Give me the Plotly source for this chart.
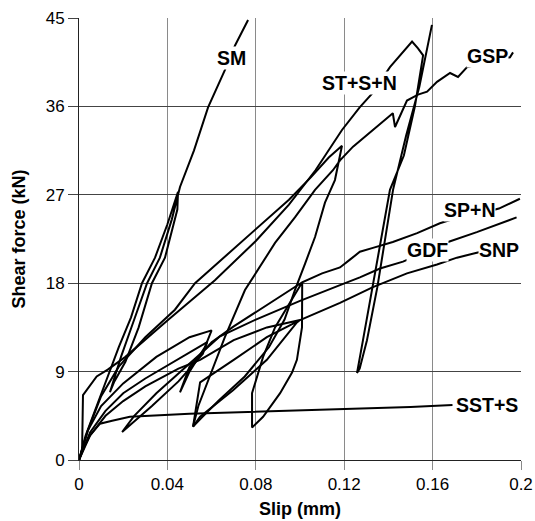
import plotly.graph_objects as go

# ---- data (slip in mm, shear force in kN) ----
SM_x = [0, 0.003, 0.008, 0.013, 0.018, 0.0235, 0.0285, 0.0344, 0.040, 0.0448, 0.0445, 0.0389, 0.033, 0.027, 0.021, 0.016, 0.014,
        0.0155, 0.019, 0.0245, 0.0308, 0.0366, 0.042, 0.0457, 0.052, 0.0584, 0.066, 0.0706, 0.0765]
SM_y = [0, 2.5, 5.5, 8.5, 11.5, 14.5, 18.0, 20.6, 24.0, 27.3, 25.5, 20.6, 18.0, 13.5, 10.0, 8.0, 6.9,
        8.0, 10.5, 14.0, 18.0, 20.6, 24.5, 27.8, 31.5, 35.9, 39.7, 42.2, 44.8]

STSN_x = [0, 0.0014, 0.0018, 0.008, 0.013, 0.021, 0.040, 0.0615, 0.080, 0.095, 0.107, 0.119, 0.127, 0.1326, 0.1407, 0.1507,
          0.1534, 0.1557, 0.152, 0.147, 0.1407, 0.133, 0.1285, 0.1258, 0.127, 0.1303, 0.135, 0.1421, 0.148, 0.154, 0.1597]
STSN_y = [0, 1.0, 6.6, 8.5, 9.2, 10.5, 14.2, 18.3, 22.3, 26.0, 29.5, 33.6, 35.9, 37.3, 40.0, 42.6,
          41.9, 41.2, 36.0, 31.0, 27.5, 17.6, 12.2, 8.86, 9.3, 12.2, 17.6, 27.5, 33.0, 38.0, 44.3]

GSP_x = [0, 0.004, 0.010, 0.018, 0.030, 0.0434, 0.0525, 0.066, 0.080, 0.095, 0.105, 0.113, 0.119,
         0.1158, 0.1113, 0.1068, 0.1023, 0.0977, 0.093, 0.086, 0.075, 0.063, 0.055, 0.0516,
         0.054, 0.060, 0.066, 0.0751, 0.0887, 0.0977, 0.1068, 0.1149, 0.1181, 0.124, 0.133, 0.142, 0.143,
         0.1484, 0.1534, 0.1575, 0.162, 0.1679, 0.1715, 0.1756, 0.185, 0.195, 0.1964]
GSP_y = [0, 3.0, 6.5, 9.5, 12.5, 15.3, 18.0, 20.7, 23.5, 26.5, 28.8, 30.8, 32.0,
         28.5, 26.2, 22.7, 20.0, 17.3, 14.3, 11.5, 8.5, 6.0, 4.2, 3.4,
         5.5, 9.0, 12.5, 17.3, 22.1, 24.7, 27.5, 29.5, 30.5, 31.9, 33.6, 35.3, 33.9,
         36.6, 37.2, 37.5, 38.5, 39.4, 39.0, 40.0, 40.5, 41.0, 41.5]

SPN_x = [0, 0.004, 0.010, 0.020, 0.035, 0.050, 0.060, 0.057, 0.050, 0.0457, 0.050, 0.060, 0.070, 0.085, 0.101,
         0.1009, 0.0986, 0.0964, 0.091, 0.0833, 0.0783, 0.0783, 0.0833, 0.0887, 0.0964, 0.101, 0.110, 0.1181,
         0.1226, 0.1271, 0.133, 0.142, 0.153, 0.1633, 0.169, 0.180, 0.190, 0.194, 0.1995]
SPN_y = [0, 3.0, 5.5, 7.8, 10.5, 12.5, 13.2, 11.5, 9.0, 6.9, 9.5, 12.0, 13.6, 15.8, 18.1,
         13.5, 10.2, 8.9, 6.8, 4.4, 3.3, 6.8, 10.5, 13.5, 16.3, 18.1, 19.0, 19.6,
         20.4, 21.2, 21.6, 22.2, 23.1, 24.1, 24.5, 25.0, 25.6, 26.0, 26.6]

GDF_x = [0, 0.005, 0.012, 0.020, 0.030, 0.045, 0.055, 0.058, 0.056, 0.045, 0.033, 0.0195, 0.025, 0.035, 0.045,
         0.055, 0.0638, 0.080, 0.100, 0.1181, 0.1271, 0.1362, 0.1466, 0.157, 0.167, 0.180, 0.198]
GDF_y = [0, 2.8, 5.0, 6.8, 8.3, 10.3, 11.6, 12.0, 10.8, 8.0, 5.5, 2.85, 4.5, 6.8, 8.8,
         10.8, 12.6, 14.3, 16.2, 17.8, 18.6, 19.5, 20.2, 21.2, 22.2, 23.2, 24.7]

SNP_x = [0, 0.005, 0.012, 0.020, 0.030, 0.045, 0.0548, 0.070, 0.085, 0.100, 0.0986, 0.085, 0.0697, 0.0548, 0.0516,
         0.0548, 0.070, 0.085, 0.100, 0.1181, 0.133, 0.1484, 0.162, 0.171, 0.180, 0.186]
SNP_y = [0, 2.5, 4.5, 6.0, 7.5, 9.3, 10.2, 12.2, 13.5, 14.25, 14.0, 10.2, 7.1, 4.4, 3.4,
         7.9, 10.2, 12.5, 14.25, 16.0, 17.6, 19.0, 19.9, 20.6, 21.1, 21.4]

SST_x = [0, 0.002, 0.005, 0.0095, 0.015, 0.023, 0.050, 0.082, 0.120, 0.150, 0.169]
SST_y = [0, 1.2, 2.5, 3.7, 4.0, 4.4, 4.7, 4.9, 5.2, 5.4, 5.6]

series = [("SM", SM_x, SM_y), ("ST+S+N", STSN_x, STSN_y), ("GSP", GSP_x, GSP_y),
          ("SP+N", SPN_x, SPN_y), ("GDF", GDF_x, GDF_y), ("SNP", SNP_x, SNP_y),
          ("SST+S", SST_x, SST_y)]

# label positions (data units)
labels = [("SM", 0.0688, 40.9), ("ST+S+N", 0.1269, 38.4), ("GSP", 0.1848, 41.1),
          ("SP+N", 0.1765, 25.5), ("GDF", 0.1577, 21.4), ("SNP", 0.190, 21.4),
          ("SST+S", 0.1844, 5.55)]

x_ticks = [0, 0.04, 0.08, 0.12, 0.16, 0.2]
x_ticktext = ["0", "0.04", "0.08", "0.12", "0.16", "0.2"]
y_ticks = [0, 9, 18, 27, 36, 45]

FONT = "Liberation Sans, Arial, sans-serif"

fig = go.Figure()
for name, xs, ys in series:
    fig.add_trace(go.Scatter(x=xs, y=ys, mode="lines", name=name,
                             line=dict(color="black", width=2), showlegend=False))

for text, lx, ly in labels:
    fig.add_annotation(x=lx, y=ly, text="<b>%s</b>" % text, showarrow=False,
                       font=dict(family=FONT, size=19.5, color="black"),
                       bgcolor="white", borderpad=0)

fig.update_layout(
    width=535, height=521,
    margin=dict(l=79, r=14, t=18, b=61, autoexpand=False),
    paper_bgcolor="white", plot_bgcolor="white",
    font=dict(family=FONT, size=17, color="black"),
)
fig.update_xaxes(range=[0, 0.2], tickvals=x_ticks, ticktext=x_ticktext, automargin=False,
                 showgrid=True, gridcolor="#8a8a8a", gridwidth=1,
                 zeroline=False, showline=True, linecolor="#222", linewidth=1,
                 ticks="outside", ticklen=9, tickcolor="#8a8a8a",
                 tickfont=dict(size=17),
                 title=dict(text="<b>Slip (mm)</b>", font=dict(size=18), standoff=8))
fig.update_yaxes(range=[0, 45], tickvals=y_ticks, automargin=False,
                 showgrid=True, gridcolor="#444", gridwidth=1,
                 zeroline=False, showline=True, linecolor="#222", linewidth=1,
                 ticks="outside", ticklen=10, tickcolor="#444",
                 tickfont=dict(size=17),
                 title=dict(text="<b>Shear force (kN)</b>", font=dict(size=18), standoff=15))

# remove the browser's default page margin so the figure fills the window exactly
fig.write_html("out.html", config={"displayModeBar": False},
               post_script="document.body.style.margin='0';document.body.style.overflow='hidden';")
